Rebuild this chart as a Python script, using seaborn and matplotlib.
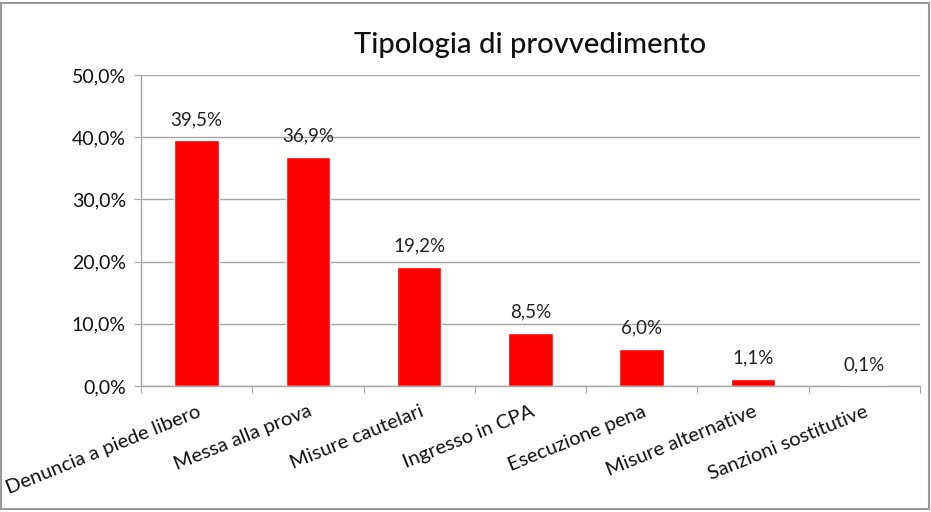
import matplotlib
matplotlib.use("Agg")
import matplotlib.pyplot as plt
import seaborn as sns
import pandas as pd
from matplotlib.patches import Rectangle

categories = ["Denuncia a piede libero", "Messa alla prova", "Misure cautelari",
              "Ingresso in CPA", "Esecuzione pena", "Misure alternative",
              "Sanzioni sostitutive"]
values = [39.5, 36.9, 19.2, 8.5, 6.0, 1.1, 0.1]
value_labels = ["39,5%", "36,9%", "19,2%", "8,5%", "6,0%", "1,1%", "0,1%"]
yticks = [0, 10, 20, 30, 40, 50]
ytick_labels = ["0,0%", "10,0%", "20,0%", "30,0%", "40,0%", "50,0%"]

df = pd.DataFrame({"tipo": categories, "perc": values})

sns.set_style("white")
plt.rcParams["font.family"] = ["Lato", "DejaVu Sans"]

fig = plt.figure(figsize=(9.31, 5.12), dpi=100)
ax = fig.add_axes([0.1515, 0.246, 0.8365, 0.6075])

sns.barplot(data=df, x="tipo", y="perc", color="#ff0000", width=0.4,
            saturation=1, ax=ax)

ax.set_ylim(0, 50)
ax.set_xlim(-0.5, len(categories) - 0.5)
ax.set_yticks(yticks)
ax.set_yticklabels(ytick_labels, fontsize=14, color="#111111")
ax.yaxis.grid(True, color="#a6a6a6", linewidth=1)
ax.set_axisbelow(True)
ax.set_xlabel("")
ax.set_ylabel("")

# tick marks between categories
ax.set_xticks([i - 0.5 for i in range(len(categories) + 1)], minor=False)
ax.set_xticklabels([])
ax.set_xticks(range(len(categories)), minor=True)
ax.set_xticklabels(categories, minor=True, rotation=22, ha="right",
                   rotation_mode="anchor", fontsize=14.5, color="#111111")
ax.tick_params(axis="x", which="minor", length=0, pad=12)
ax.tick_params(axis="x", which="major", length=5, color="#a6a6a6", direction="out")
ax.tick_params(axis="y", length=5, color="#a6a6a6", direction="out", pad=6)
ax.xaxis.set_ticks_position("bottom")
ax.yaxis.set_ticks_position("left")

for s in ["top", "right"]:
    ax.spines[s].set_visible(False)
for s in ["left", "bottom"]:
    ax.spines[s].set_color("#a6a6a6")
    ax.spines[s].set_linewidth(1)

for i, (v, lab) in enumerate(zip(values, value_labels)):
    ax.text(i, v + 2.0, lab, ha="center", va="bottom", fontsize=13.5,
            color="#222222")

fig.text(0.569, 0.912, "Tipologia di provvedimento", ha="center",
         va="center", fontsize=21, fontweight="medium", color="#111111")

fig.patches.append(Rectangle((0.001, 0.005), 0.997, 0.99, transform=fig.transFigure,
                             fill=False, edgecolor="#9a9a9a", linewidth=1.5))

fig.savefig("out.png", dpi=100)
